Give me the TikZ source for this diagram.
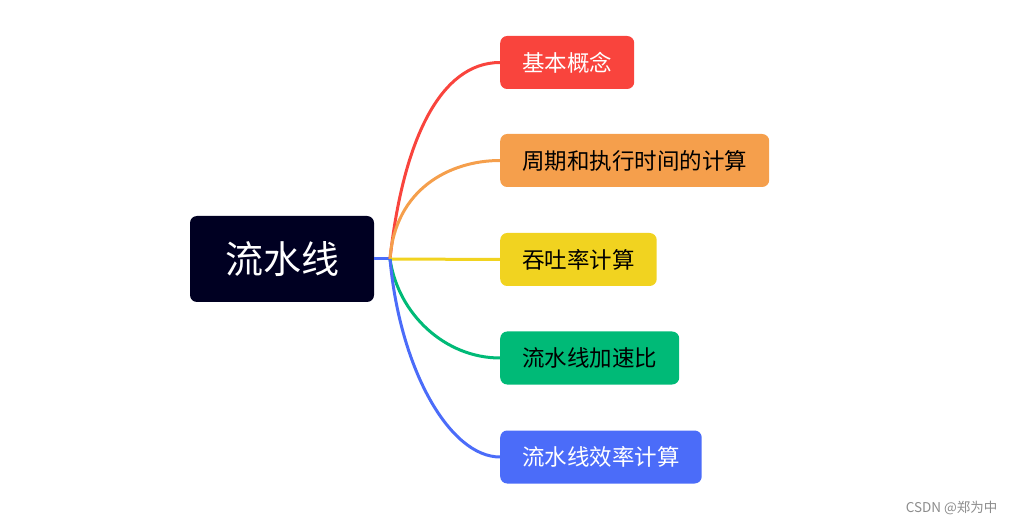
\documentclass[tikz,border=0pt]{standalone}
\usepackage{fontspec}
\setmainfont{Noto Sans CJK SC}
\definecolor{rootnavy}{HTML}{000022}
\definecolor{topicred}{HTML}{F9443D}
\definecolor{topicorange}{HTML}{F59F4C}
\definecolor{topicyellow}{HTML}{F1D320}
\definecolor{topicgreen}{HTML}{00BA77}
\definecolor{topicblue}{HTML}{4B6CF9}
\begin{document}
\begin{tikzpicture}[x=1pt, y=-1pt,
    rootbox/.style={fill=rootnavy, text=white, rounded corners=7pt, minimum height=86pt,
        inner xsep=35pt, font=\fontsize{38}{40}\selectfont},
    topicbox/.style={rounded corners=7pt, minimum height=53pt, inner xsep=22pt,
        anchor=west, font=\fontsize{22.5}{25}\selectfont},
    branch/.style={line width=3pt}]
    \useasboundingbox (0,0) rectangle (1014,526);

    % Central topic
    \node[rootbox] (root) at (282,259) {流水线};
    \coordinate (fork) at (390,259);

    % Sub-topics
    \node[topicbox, fill=topicred, text=white] (gainian) at (500,62.5) {基本概念};
    \node[topicbox, fill=topicorange] (zhouqi) at (500,160.5) {周期和执行时间的计算};
    \node[topicbox, fill=topicyellow] (tuntu) at (500,259.5) {吞吐率计算};
    \node[topicbox, fill=topicgreen] (jiasu) at (500,358) {流水线加速比};
    \node[topicbox, fill=topicblue, text=white] (xiaolv) at (500,457) {流水线效率计算};

    % Stub from the central topic
    \draw[branch, topicblue] (root.east) -- (fork);

    % Branches
    \draw[branch, topicred] (fork) .. controls +(13,-118) and +(-60,0) .. (gainian.west);
    \draw[branch, topicorange] (fork) .. controls +(5,-70) and +(-50,0) .. (zhouqi.west);
    \draw[branch, topicyellow] (fork) -- (tuntu.west);
    \draw[branch, topicgreen] (fork) .. controls +(8,55) and +(-55,0) .. (jiasu.west);
    \draw[branch, topicblue] (fork) .. controls +(10,111) and +(-50,0) .. (xiaolv.west);

    % Watermark
    \node[text=black!45, anchor=east, font=\fontsize{13.5}{15}\selectfont] (mark) at (1001,508) {CSDN @郑为中};

\end{tikzpicture}
\end{document}
